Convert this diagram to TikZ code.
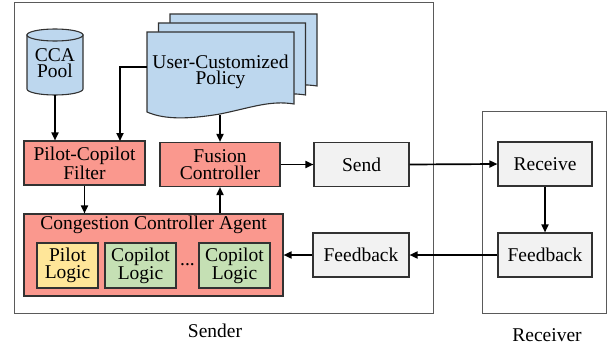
\documentclass[tikz,border=0pt]{standalone}
\usepackage{fontspec}
\setmainfont{Liberation Serif}
\usetikzlibrary{arrows.meta}
\definecolor{redf}{RGB}{250,152,142}
\definecolor{bluef}{RGB}{189,215,238}
\definecolor{yelf}{RGB}{255,230,153}
\definecolor{grnf}{RGB}{197,224,180}
\definecolor{grayf}{RGB}{242,242,242}
\definecolor{edge}{RGB}{50,50,50}
\definecolor{frame}{RGB}{90,90,90}
\begin{document}
\begin{tikzpicture}[x=1pt,y=-1pt,
  txt/.style={font=\fontsize{19.5}{16.5}\selectfont, align=center, inner sep=0pt},
  box/.style={txt, draw=edge, line width=1.1pt, minimum width=#1},
  redbox/.style={box=#1, fill=redf, minimum height=44},
  graybox/.style={box=#1, fill=grayf, minimum height=44},
  logic/.style={box=#1, minimum height=45},
  arr/.style={line width=1.7pt, -{Triangle[length=8pt,width=7pt]}},
  docshape/.style={fill=bluef, draw=edge, line width=1.1pt}]
\useasboundingbox (0,0) rectangle (607,345);
% frames
\draw[frame, line width=1pt] (14,3) rectangle (433,313);
\draw[frame, line width=1pt] (482,111) rectangle (606,313);
\node[txt] (sl) at (215,331) {Sender};
\node[txt] (rl) at (547,335) {Receiver};
% cylinder
\draw[docshape] (27,35) -- (27,89) arc[start angle=180,end angle=0,x radius=28,y radius=6] -- (83,35) -- cycle;
\draw[docshape] (55,35) ellipse[x radius=28,y radius=6];
\node[txt, minimum width=56, minimum height=66] (pool) at (55,63) {CCA\\Pool};
% documents
\foreach \dx/\dy in {23/-18, 11.5/-9, 0/0}{
  \draw[docshape, shift={(\dx,\dy)}] (147,32) -- (294,32) -- (294,104)
    .. controls (270,100) and (250,108) .. (220,114)
    .. controls (190,119) and (165,120) .. (147,112) -- cycle;
}
\node[txt, minimum width=147, minimum height=40] (policy) at (220.5,72) {User-Customized\\Policy};
\coordinate (polB) at (220,115);
% boxes
\node[redbox=121] (filter) at (84.5,163) {Pilot-Copilot\\Filter};
\node[redbox=120] (fusion) at (220,164.5) {Fusion\\Controller};
\node[graybox=95] (send) at (361.5,164.5) {Send};
\node[graybox=94] (recv) at (545,164) {Receive};
\node[graybox=94] (fbr) at (545,255) {Feedback};
\node[graybox=96] (fbs) at (361,255) {Feedback};
\node[box=259, fill=redf, minimum height=82] (agent) at (153.5,255) {};
\node[txt] (agtitle) at (153.5,225) {Congestion Controller Agent};
\node[logic=61, fill=yelf] (pilot) at (67.5,265.5) {Pilot\\Logic};
\node[logic=71, fill=grnf] (cop1) at (140.5,265.5) {Copilot\\Logic};
\node[txt] (dots) at (187.5,265) {...};
\node[logic=71, fill=grnf] (cop2) at (234.5,265.5) {Copilot\\Logic};
% arrows
\draw[arr] (pool.south |- 95,95) -- (pool.south |- filter.north);
\draw[arr] ([yshift=5pt]policy.west) -| (120,141);
\draw[arr] (polB) -- (fusion.north);
\draw[arr] (fusion.east) -- (send.west);
\draw[arr] (send.east) -- (recv.west);
\draw[arr] (recv.south) -- (fbr.north);
\draw[arr] (fbr.west) -- (fbs.east);
\draw[arr] (fbs.west) -- (agent.east);
\draw[arr] (filter.south) -- (filter.south |- agent.north);
\draw[arr] (fusion.south |- agent.north) -- (fusion.south);
\end{tikzpicture}
\end{document}
